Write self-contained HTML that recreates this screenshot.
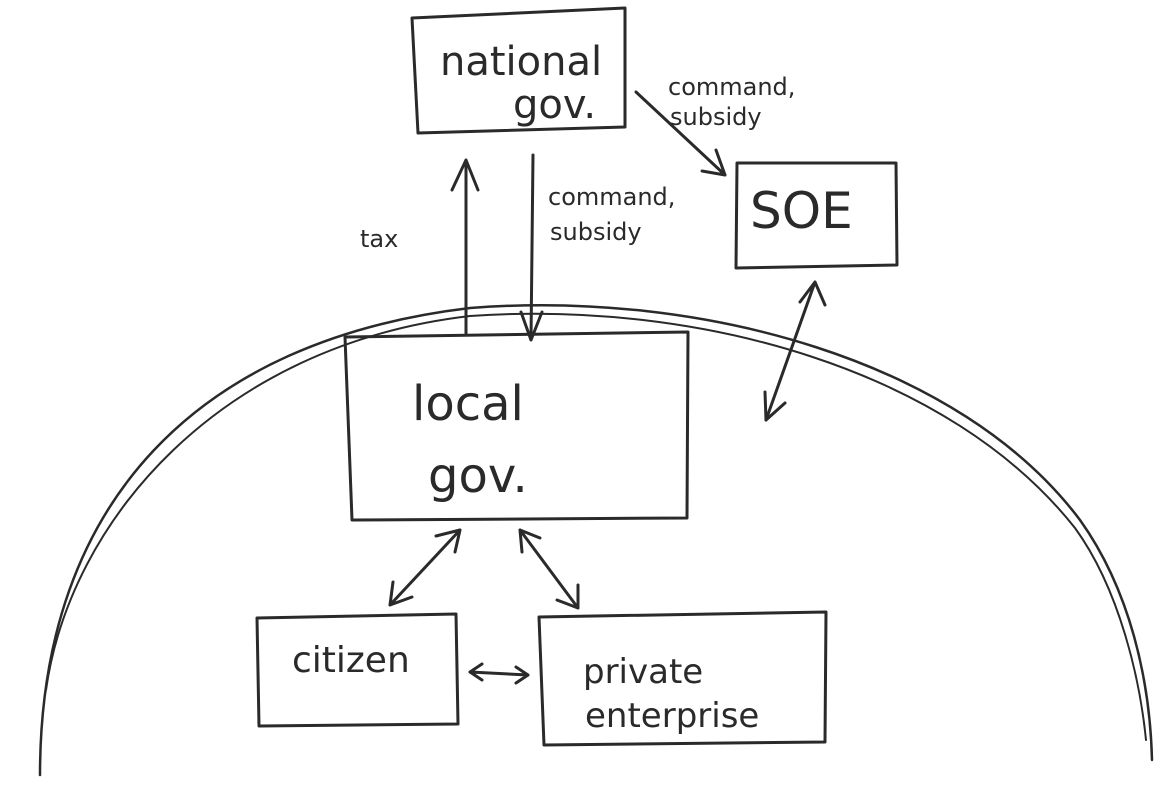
<!DOCTYPE html>
<html><head><style>
html,body{margin:0;padding:0;background:#fff;}
svg{display:block;}
text{font-family:"DejaVu Sans","Liberation Sans",sans-serif;fill:#2a2a2a;font-weight:normal;}
</style></head><body>
<svg width="1174" height="805" viewBox="0 0 1174 805" xmlns="http://www.w3.org/2000/svg">
<g fill="none" stroke="#2a2a2a" stroke-width="3" stroke-linecap="round" stroke-linejoin="round">
<path d="M40 775 C 40 500, 200 340, 470 308 C 700 290, 960 360, 1080 520 C 1130 590, 1150 680, 1152 760" stroke-width="2.5"/>
<path d="M46 690 C 70 520, 220 345, 470 316 C 700 300, 950 370, 1075 528 C 1120 590, 1140 680, 1146 740" stroke-width="2"/>
<path d="M412 18 L625 8 L625 127 L418 133 Z"/>
<path d="M737 163 L896 163 L897 265 L736 268 Z"/>
<path d="M345 337 L688 332 L687 518 L352 520 Z"/>
<path d="M257 618 L456 614 L458 724 L259 726 Z"/>
<path d="M539 617 L826 612 L825 742 L544 745 Z"/>
<path d="M466 335 L466 160 M452 190 L466 160 L478 190"/>
<path d="M533 155 L531 340 M521 312 L531 340 L542 312"/>
<path d="M636 92 L725 175 M702 171 L725 175 L716 150"/>
<path d="M766 420 L815 282 M800 302 L815 282 L825 305"/>
<path d="M766 420 L765 392 M766 420 L785 403"/>
<path d="M460 530 L390 605 M390 605 L393 582 M390 605 L412 597 M460 530 L436 536 M460 530 L455 552"/>
<path d="M520 530 L578 608 M578 608 L557 600 M578 608 L578 585 M520 530 L522 552 M520 530 L540 538"/>
<path d="M470 672 L528 675 M470 672 L482 664 M470 672 L482 680 M528 675 L516 667 M528 675 L516 683"/>
</g>
<text x="440" y="75" font-size="40">national</text>
<text x="513" y="118" font-size="40">gov.</text>
<text x="750" y="228" font-size="50">SOE</text>
<text x="412" y="420" font-size="48">local</text>
<text x="428" y="492" font-size="48">gov.</text>
<text x="292" y="672" font-size="36">citizen</text>
<text x="583" y="683" font-size="34">private</text>
<text x="585" y="727" font-size="34">enterprise</text>
<text x="668" y="95" font-size="24">command,</text>
<text x="670" y="125" font-size="24">subsidy</text>
<text x="548" y="205" font-size="24">command,</text>
<text x="550" y="240" font-size="24">subsidy</text>
<text x="360" y="247" font-size="24">tax</text>
</svg>
</body></html>
